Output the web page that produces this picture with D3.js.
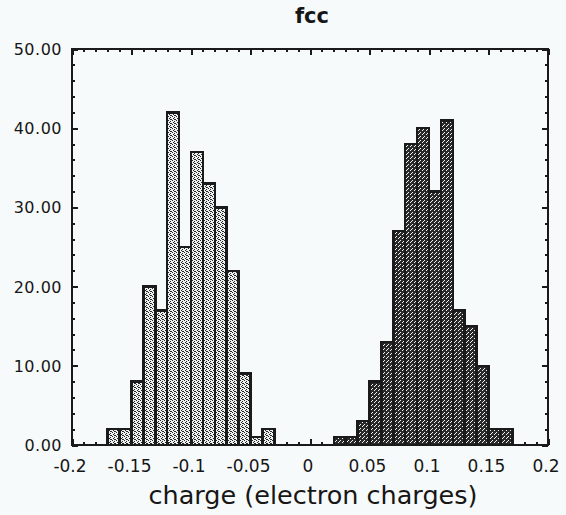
<!DOCTYPE html>
<html>
<head>
<meta charset="utf-8">
<script src="https://cdn.jsdelivr.net/npm/d3@7"></script>
<style>
  html, body { margin: 0; padding: 0; background: #f7fafb; }
  svg { display: block; }
  text { font-family: "DejaVu Sans", Verdana, sans-serif; fill: #161616; }
</style>
</head>
<body>
<script>
// ---- data ----
const binWidth = 0.01;
const leftBinStarts = [-0.17, -0.16, -0.15, -0.14, -0.13, -0.12, -0.11, -0.10, -0.09, -0.08, -0.07, -0.06, -0.05, -0.04];
const leftCounts    = [2, 2, 8, 20, 17, 42, 25, 37, 33, 30, 22, 9, 1, 2];
const rightBinStarts = [0.02, 0.03, 0.04, 0.05, 0.06, 0.07, 0.08, 0.09, 0.10, 0.11, 0.12, 0.13, 0.14, 0.15, 0.16];
const rightCounts    = [1, 1, 3, 8, 13, 27, 38, 40, 32, 41, 17, 15, 10, 2, 2];
const xTicks = [-0.2, -0.15, -0.1, -0.05, 0, 0.05, 0.1, 0.15, 0.2];
const xTickLabels = ["-0.2", "-0.15", "-0.1", "-0.05", "0", "0.05", "0.1", "0.15", "0.2"];
const yTicks = [0, 10, 20, 30, 40, 50];
const yTickLabels = ["0.00", "10.00", "20.00", "30.00", "40.00", "50.00"];
const titleText = "fcc";
const xLabelText = "charge (electron charges)";

// ---- layout ----
const W = 566, H = 515;
const plot = { left: 72, right: 548, top: 49, bottom: 445 };

const svg = d3.select("body").append("svg").attr("width", W).attr("height", H);
svg.append("rect").attr("width", W).attr("height", H).attr("fill", "#f7fafb");

const x = d3.scaleLinear().domain([-0.2, 0.2]).range([plot.left, plot.right]);
const y = d3.scaleLinear().domain([0, 50]).range([plot.bottom, plot.top]);

// patterns
const defs = svg.append("defs");
const pl = defs.append("pattern").attr("id", "lightDots").attr("patternUnits", "userSpaceOnUse")
  .attr("width", 4).attr("height", 4);
pl.append("rect").attr("width", 4).attr("height", 4).attr("fill", "#eef0f0");
[[0,0],[2,1],[1,2],[3,3],[2,3]].forEach(([a,b]) => pl.append("rect").attr("x", a).attr("y", b).attr("width", 1).attr("height", 1).attr("fill", "#262626"));
const pr = defs.append("pattern").attr("id", "darkDots").attr("patternUnits", "userSpaceOnUse")
  .attr("width", 4).attr("height", 4);
pr.append("rect").attr("width", 4).attr("height", 4).attr("fill", "#2a2a2a");
[[0,0],[2,2],[3,1]].forEach(([a,b]) => pr.append("rect").attr("x", a).attr("y", b).attr("width", 1).attr("height", 1).attr("fill", "#f0f2f2"));

function drawBars(starts, counts, fill) {
  const data = starts.map((s, i) => ({ s, c: counts[i] }));
  svg.append("g").selectAll("rect").data(data).join("rect")
    .attr("x", d => x(d.s))
    .attr("y", d => y(d.c))
    .attr("width", d => x(d.s + binWidth) - x(d.s))
    .attr("height", d => y(0) - y(d.c))
    .attr("fill", fill)
    .attr("stroke", "#1a1a1a")
    .attr("stroke-width", 2.5)
    .attr("shape-rendering", "crispEdges");
}
drawBars(leftBinStarts, leftCounts, "url(#lightDots)");
drawBars(rightBinStarts, rightCounts, "url(#darkDots)");

// axes with inward ticks on all sides
const xMinor = d3.range(-20, 21).map(v => v / 100);
const yMinor = d3.range(0, 51, 2);
function tickAxis(axisFn, scale, ticks, size, transform) {
  const a = axisFn(scale).tickValues(ticks).tickSize(size).tickFormat("");
  const g = svg.append("g").attr("transform", transform).call(a);
  g.select(".domain").remove();
  g.selectAll("line").attr("stroke", "#1a1a1a").attr("stroke-width", 2).attr("shape-rendering", "crispEdges");
}
tickAxis(d3.axisBottom, x, xMinor, -3, `translate(0,${plot.bottom})`);
tickAxis(d3.axisBottom, x, xTicks, -6, `translate(0,${plot.bottom})`);
tickAxis(d3.axisTop, x, xMinor, -3, `translate(0,${plot.top})`);
tickAxis(d3.axisTop, x, xTicks, -6, `translate(0,${plot.top})`);
tickAxis(d3.axisLeft, y, yMinor, -3, `translate(${plot.left},0)`);
tickAxis(d3.axisLeft, y, yTicks, -6, `translate(${plot.left},0)`);
tickAxis(d3.axisRight, y, yMinor, -3, `translate(${plot.right},0)`);
tickAxis(d3.axisRight, y, yTicks, -6, `translate(${plot.right},0)`);

// frame
svg.append("rect").attr("x", plot.left).attr("y", plot.top)
  .attr("width", plot.right - plot.left).attr("height", plot.bottom - plot.top)
  .attr("fill", "none").attr("stroke", "#1a1a1a").attr("stroke-width", 2)
  .attr("shape-rendering", "crispEdges");

// tick labels
svg.append("g").selectAll("text").data(xTicks).join("text")
  .attr("x", d => x(d) - 2).attr("y", 472)
  .attr("text-anchor", "middle").attr("font-size", 17)
  .text((d, i) => xTickLabels[i]);
svg.append("g").selectAll("text").data(yTicks).join("text")
  .attr("x", 62).attr("y", d => y(d) + 6)
  .attr("text-anchor", "end").attr("font-size", 16).attr("letter-spacing", 0.5)
  .text((d, i) => yTickLabels[i]);

// title & axis label
svg.append("text").attr("x", 312).attr("y", 23).attr("text-anchor", "middle")
  .attr("font-size", 21).attr("font-weight", "bold").text(titleText);
svg.append("text").attr("x", 313).attr("y", 504).attr("text-anchor", "middle")
  .attr("font-size", 25.5).text(xLabelText);
</script>
</body>
</html>
